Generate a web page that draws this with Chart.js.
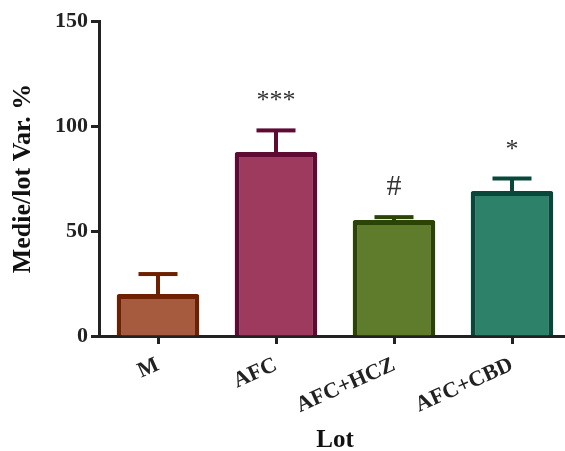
<!DOCTYPE html>
<html>
<head>
<meta charset="utf-8">
<script src="https://cdn.jsdelivr.net/npm/chart.js@4"></script>
<style>
  html, body { margin: 0; padding: 0; background: #fff; overflow: hidden; }
  #box { position: relative; width: 571px; height: 451px; }
</style>
</head>
<body>
<div id="box"><canvas id="chart"></canvas></div>
<script>
// values
var lots = ['M', 'AFC', 'AFC+HCZ', 'AFC+CBD'];
var medie = [20, 87.6, 55.2, 69];
var sem = [9.5, 10.3, 1.4, 6];
var semne = ['', '***', '#', '*'];
var yTicks = [0, 50, 100, 150];

var umplere = ['#A65A3E', '#9E3A5E', '#5F7B2C', '#2D8169'];
var contur = ['#6E2000', '#5E0A33', '#2B4405', '#08473A'];

var serif = '"Liberation Serif", "Times New Roman", serif';

var eroriPlugin = {
    id: 'erori',
    afterDatasetsDraw: function(chart) {
        var ctx = chart.ctx;
        var y = chart.scales.y;
        var meta = chart.getDatasetMeta(0);
        ctx.save();
        meta.data.forEach(function(bar, i) {
            var top = y.getPixelForValue(medie[i]);
            var cap = y.getPixelForValue(medie[i] + sem[i]);
            ctx.fillStyle = contur[i];
            ctx.fillRect(bar.x - 2, cap, 4, top - cap + 3);
            ctx.fillRect(bar.x - 19.5, cap - 2, 39, 4);
            if (semne[i]) {
                ctx.fillStyle = '#333';
                ctx.font = (semne[i] == '#' ? '30px ' : '26px ') + serif;
                ctx.textAlign = 'center';
                ctx.textBaseline = 'alphabetic';
                ctx.fillText(semne[i], bar.x, cap - 22);
            }
        });
        ctx.restore();
    }
};

new Chart(document.getElementById('chart'), {
    type: 'bar',
    data: {
        labels: lots,
        datasets: [{
            data: medie,
            backgroundColor: umplere,
            borderColor: contur,
            borderWidth: 5,
            borderRadius: 2,
            borderSkipped: 'bottom',
            barPercentage: 0.7,
            categoryPercentage: 1
        }]
    },
    options: {
        responsive: true,
        maintainAspectRatio: false,
        animation: false,
        layout: { padding: { top: 21, left: 0, right: 0, bottom: 0 } },
        plugins: { legend: { display: false }, tooltip: { enabled: false } },
        scales: {
            x: {
                grid: { display: true, drawOnChartArea: false, offset: false, tickLength: 8, tickWidth: 3, color: '#222' },
                border: { display: true, color: '#222', width: 3 },
                ticks: {
                    color: '#222',
                    font: { family: serif, size: 22, weight: 'bold' },
                    minRotation: 24, maxRotation: 24, padding: 8
                },
                title: {
                    display: true, text: 'Lot', color: '#111',
                    font: { family: serif, size: 25, weight: 'bold', lineHeight: 0.8 },
                    padding: { top: 10, bottom: 0 }
                },
                afterFit: function(s) { s.height = 115; }
            },
            y: {
                min: 0, max: 150,
                afterBuildTicks: function(s) { s.ticks = yTicks.map(function(v) { return { value: v }; }); },
                grid: { display: true, drawOnChartArea: false, tickLength: 8, tickWidth: 3, color: '#222' },
                border: { display: true, color: '#222', width: 3 },
                ticks: {
                    color: '#222',
                    font: { family: serif, size: 22, weight: 'bold' },
                    padding: 3
                },
                title: {
                    display: true, text: 'Medie/lot Var. %', color: '#111',
                    font: { family: serif, size: 26, weight: 'bold' },
                    padding: { top: 8, bottom: 10 }
                },
                afterFit: function(s) { s.width = 99; }
            }
        }
    },
    plugins: [eroriPlugin]
});
</script>
</body>
</html>
